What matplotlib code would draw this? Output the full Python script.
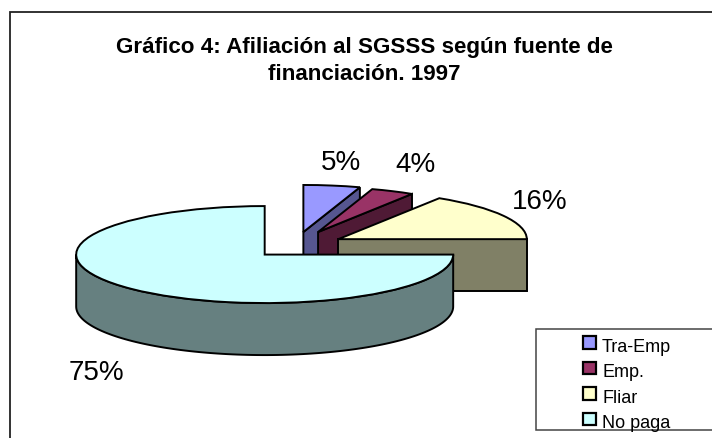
import numpy as np
import matplotlib
matplotlib.use("Agg")
import matplotlib.pyplot as plt
from matplotlib.patches import Rectangle

plt.rcParams["font.family"] = ["Liberation Sans", "DejaVu Sans"]

# datos
labels = ["Tra-Emp", "Emp.", "Fliar", "No paga"]
shares = [5, 4, 16, 75]
title_lines = ["Gráfico 4: Afiliación al SGSSS según fuente de", "financiación. 1997"]

top_colors = ["#9999FF", "#993366", "#FFFFCC", "#CCFFFF"]
side_colors = ["#565690", "#4F1A35", "#808066", "#668080"]

W, H = 712, 438
CX, CY = 298, 246  # pie centre, px
RX, RY = 188.5, 48.5  # px per pie unit
DEPTH = 52 / RY
LW = 1.4


def px(x, y):
    return x / W, 1 - y / H


fig = plt.figure(figsize=(W / 100, H / 100), dpi=100)
ax = fig.add_axes([0, 0, 1, 1])
wedges, _ = ax.pie(
    shares,
    explode=[0.25] * 4,
    startangle=90,
    counterclock=False,
    colors=top_colors,
    wedgeprops=dict(edgecolor="black", linewidth=LW, joinstyle="miter"),
)
ax.set_aspect("auto")
ax.set_xlim(-CX / RX, (W - CX) / RX)
ax.set_ylim((CY - H) / RY, CY / RY)
ax.axis("off")

# rear slices look smaller in the original's perspective, nudges in px
for w, r, (dx, dy) in zip(wedges, [0.97, 0.93, 1, 1], [(-2, 2), (0, 3), (-1, 1), (0, 0)]):
    w.set_radius(r)
    w.set_center((w.center[0] + dx / RX, w.center[1] + dy / RY))


def add_wall(xs, ys, color, z):
    xs = np.asarray(xs)
    ys = np.asarray(ys)
    ax.fill(
        np.r_[xs, xs[::-1]],
        np.r_[ys, ys[::-1] - DEPTH],
        facecolor=color,
        edgecolor="black",
        linewidth=LW,
        joinstyle="miter",
        zorder=z,
    )


# side walls, back to front
for i, w in enumerate(wedges):
    w.set_zorder(2 * i + 2)
    cx, cy = w.center
    t1, t2 = w.theta1, w.theta2
    if t1 >= 0:
        rad = np.radians(t1)
        add_wall([cx, cx + w.r * np.cos(rad)], [cy, cy + w.r * np.sin(rad)], side_colors[i], 2 * i + 1)
    else:
        ang = np.radians(np.linspace(max(t1, -180), min(t2, 0), 120))
        add_wall(cx + w.r * np.cos(ang), cy + w.r * np.sin(ang), side_colors[i], 2 * i + 1)

# percentages
label_pos = [(341, 163), (416, 165), (540, 202), (96, 373)]
for v, (x, y) in zip(shares, label_pos):
    fx, fy = px(x, y)
    fig.text(fx, fy, f"{v}%", fontsize=20, ha="center", va="center")

# title
for line, y in zip(title_lines, [47.5, 75]):
    fx, fy = px(364.5, y)
    fig.text(fx, fy, line, fontsize=16.1, fontweight="bold", ha="center", va="center")

# outer frame: only left and top fall inside the picture
x0, y0 = px(10, 438 + 5)
x1, y1 = px(712 + 5, 12)
fig.add_artist(Rectangle((x0, y0), x1 - x0, y1 - y0, transform=fig.transFigure,
                         facecolor="none", edgecolor="#222222", linewidth=1.3))

# legend box
x0, y0 = px(536, 430)
x1, y1 = px(712 + 5, 329)
fig.add_artist(Rectangle((x0, y0), x1 - x0, y1 - y0, transform=fig.transFigure,
                         facecolor="white", edgecolor="#444444", linewidth=1.1, zorder=20))
leg = fig.legend(
    wedges,
    labels,
    loc="upper left",
    bbox_to_anchor=px(569, 324.5),
    frameon=False,
    fontsize=13,
    handlelength=0.68,
    handleheight=0.68,
    handletextpad=0.35,
    labelspacing=0.47,
    borderpad=0.3,
)
leg.set_zorder(21)
for h in leg.legend_handles:
    h.set_linewidth(1.6)
    h.set_y(h.get_y() + 2.2)  # boxes sit a bit above the text

fig.savefig("out.png", dpi=100)
